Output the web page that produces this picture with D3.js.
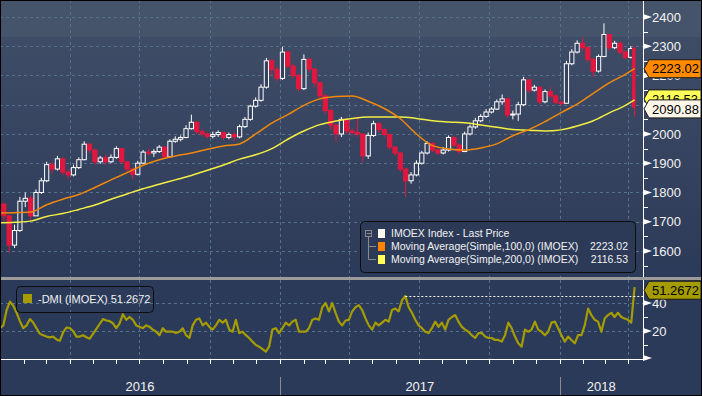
<!DOCTYPE html>
<html>
<head>
<meta charset="utf-8">
<script src="https://cdn.jsdelivr.net/npm/d3@7"></script>
<style>
  html, body { margin: 0; padding: 0; background: #2c3a58; }
  svg { display: block; font-family: "Liberation Sans", Arial, sans-serif; }
</style>
</head>
<body>
<svg id="chart" width="702" height="396"></svg>
<script>
// IMOEX weekly candles (mid-week date), plus the last trading day 2018-04-09
const weekStart = "2015-12-30";
const lastDate = "2018-04-09";

const open = [1770,1760,1720,1620,1670,1770,1780,1720,1800,1840,
  1895,1880,1915,1870,1860,1885,1912,1965,1945,1905,
  1918,1905,1920,1950,1905,1880,1862,1900,1938,1935,
  1940,1955,1922,1975,1982,1988,2018,2040,2008,2000,
  1992,1998,2005,1988,1998,1990,2025,2050,2095,2115,
  2160,2250,2220,2190,2280,2232,2200,2155,2255,2222,
  2175,2130,2080,2030,2000,2050,2010,2005,2000,1925,
  1995,2035,2015,1998,1955,1935,1880,1840,1860,1900,
  1935,1968,1945,1935,1945,1988,1962,1940,2000,2024,
  2045,2060,2075,2085,2110,2120,2065,2068,2100,2185,
  2150,2160,2110,2145,2130,2108,2105,2240,2280,2310,
  2295,2255,2215,2265,2340,2295,2310,2280,2262,2292];
const close = [1760,1720,1620,1670,1770,1780,1720,1800,1840,1895,
  1880,1915,1870,1860,1885,1912,1965,1945,1905,1918,
  1905,1920,1950,1905,1880,1862,1900,1938,1935,1940,
  1955,1922,1975,1982,1988,2018,2040,2008,2000,1992,
  1998,2005,1988,1998,1990,2025,2050,2095,2115,2160,
  2250,2220,2190,2280,2232,2200,2155,2255,2222,2175,
  2130,2080,2030,2000,2050,2010,2005,2000,1925,1995,
  2035,2015,1998,1955,1935,1880,1840,1860,1900,1935,
  1968,1945,1935,1945,1988,1962,1940,2000,2024,2045,
  2060,2075,2085,2110,2120,2065,2068,2100,2185,2150,
  2160,2110,2145,2130,2108,2105,2240,2280,2310,2295,
  2255,2215,2265,2340,2295,2310,2280,2262,2292,2090.88];
const high = [1780,1765,1720,1690,1785,1800,1790,1810,1850,1905,
  1905,1925,1920,1880,1895,1920,1975,1970,1950,1925,
  1930,1930,1958,1950,1905,1885,1908,1945,1950,1948,
  1962,1958,1982,1992,1995,2030,2066,2045,2015,2005,
  2008,2012,2008,2005,2006,2032,2058,2100,2125,2170,
  2260,2258,2230,2298,2285,2240,2205,2272,2260,2225,
  2180,2135,2085,2035,2058,2055,2020,2060,2000,2005,
  2045,2040,2020,2000,1960,1938,1885,1870,1910,1942,
  1975,1972,1950,1955,1995,1992,1968,2008,2032,2055,
  2068,2085,2092,2118,2135,2122,2080,2110,2195,2180,
  2168,2160,2152,2160,2135,2115,2250,2290,2320,2330,
  2300,2260,2272,2378,2340,2318,2315,2285,2300,2300];
const low = [1740,1700,1593,1610,1665,1750,1705,1720,1795,1835,
  1865,1875,1860,1845,1855,1880,1910,1935,1895,1898,
  1895,1900,1915,1898,1870,1845,1858,1898,1925,1922,
  1935,1915,1920,1970,1975,1985,2015,2000,1992,1985,
  1985,1990,1980,1982,1975,1985,2020,2045,2090,2110,
  2155,2200,2180,2185,2225,2190,2145,2150,2210,2160,
  2120,2070,2015,1975,1990,2000,1995,1990,1905,1915,
  1990,2005,1990,1945,1925,1870,1785,1830,1855,1895,
  1930,1938,1928,1930,1940,1955,1932,1938,1995,2018,
  2040,2055,2070,2082,2100,2055,2050,2045,2095,2140,
  2145,2100,2105,2122,2100,2095,2105,2235,2275,2285,
  2245,2195,2210,2262,2285,2290,2272,2255,2258,2060];

// moving averages, one value every 3 weeks + last day
const ma100 = [1730,1731,1733,1758,1777,1793,1817,1843,1868,1893,
  1912,1925,1935,1948,1959,1966,2000,2037,2066,2098,
  2120,2128,2130,2112,2087,2052,2000,1960,1949,1945,
  1952,1966,1994,2015,2042,2073,2102,2139,2175,2204,2223.02];
const ma200 = [1696,1698,1702,1718,1728,1742,1757,1777,1795,1813,
  1828,1843,1858,1876,1894,1914,1929,1950,1982,2010,
  2032,2044,2053,2058,2058,2058,2053,2045,2041,2038,
  2031,2023,2015,2013,2010,2014,2027,2045,2072,2098,2116.53];

// -DMI, evenly spaced from 2016-01-01 to the last day
const dmiStart = "2016-01-01";
const dmi = [22,24,35,41,38,33,27,22,24,28.5,
  26,22,18,17,16,15.5,16,14,13,19,
  22.5,22,20,16,16,17,15.5,14.5,18,21.5,
  25,28.5,27.5,27,25.5,22,25.5,32,28,30,
  28,24,23,22,24,23,21,19.5,17,22,
  19.5,19.5,19.5,18.5,19.5,22,17,15,24,28,
  29,24,26,23,21,24,28,26,28,21,
  19.5,28,18.5,19.5,17,15,12.4,10,8.8,7,
  5.2,8.8,21,22,18.5,22,26,24,26.7,28,
  19.5,19.5,19.5,22,28,29,28,37,40,34,
  40,33,26.7,24,27.5,28,34,37,38.5,35,
  29,24,21,26,24,26,28,26.7,35,36,
  34,42,45,37,33,28,24,22,19.5,18.5,
  22,26.7,23,26,21,28,30,31.4,26.7,23,
  21,19.5,17,15,18.5,18.5,16,15,15,13.6,
  13.6,12.4,17,26,22,16,11.2,8.8,21,19.5,
  21,26.7,21,19.5,17,19.5,26,26.7,22,17,
  12.4,16,13.6,11.2,17,17,24,36,31.4,28,
  26.7,19.5,29,31.4,33,30,33,30,29,28,
  26,51.2672];

const priceTicks = [1600,1700,1800,1900,2000,2100,2200,2300,2400];
const dmiTicks = [0,20,40];
const years = ["2016","2017","2018"];

const legendRows = [
  {label: "IMOEX Index - Last Price", value: "", color: "#fff6ee"},
  {label: "Moving Average(Simple,100,0) (IMOEX)", value: "2223.02", color: "#ff8400"},
  {label: "Moving Average(Simple,200,0) (IMOEX)", value: "2116.53", color: "#ffff55"}
];

// ---------------------------------------------------------------
const parse = d3.timeParse("%Y-%m-%d");
const W = 702, H = 396, plotR = 643;
const topH = 277, lowTop = 280, lowBot = 359;

const x = d3.scaleTime()
  .domain([new Date(2016, 0, 1), new Date(2018, 3, 20)])
  .range([0, plotR]);
const y = d3.scaleLinear().domain([1511, 2458]).range([topH, 0]);
const yd = d3.scaleLinear().domain([0, 57]).range([lowBot, lowBot - 57 * 1.4]);

const w0 = parse(weekStart), dLast = parse(lastDate);
const candles = close.map((c, i) => ({
  date: i < close.length - 1 ? d3.timeDay.offset(w0, 7 * i) : dLast,
  open: open[i], high: high[i], low: low[i], close: c
}));
const maDates = ma100.map((v, i) => i < ma100.length - 1 ? d3.timeDay.offset(w0, 21 * i) : dLast);
const dmiDate = d3.scaleLinear().domain([0, dmi.length - 1])
  .range([parse(dmiStart).getTime(), dLast.getTime()]);

const svg = d3.select("#chart");
const defs = svg.append("defs");

const grad = defs.append("linearGradient").attr("id", "bg").attr("x1", 0).attr("x2", 0).attr("y1", 0).attr("y2", 1);
grad.append("stop").attr("offset", "0%").attr("stop-color", "#3f4c66");
grad.append("stop").attr("offset", "100%").attr("stop-color", "#2c3a59");

defs.append("clipPath").attr("id", "clipTop").append("rect")
  .attr("x", 0).attr("y", 0).attr("width", plotR).attr("height", topH);
defs.append("clipPath").attr("id", "clipLow").append("rect")
  .attr("x", 0).attr("y", lowTop).attr("width", plotR).attr("height", lowBot - lowTop);

// backgrounds
svg.append("rect").attr("width", W).attr("height", H).attr("fill", "#2c3a58");
svg.append("rect").attr("x", 0).attr("y", 37).attr("width", W).attr("height", topH - 37).attr("fill", "url(#bg)");
svg.append("rect").attr("x", 0).attr("y", 0).attr("width", W).attr("height", 37).attr("fill", "#46546b");
svg.append("rect").attr("x", 0).attr("y", lowTop).attr("width", W).attr("height", H - lowTop).attr("fill", "#2c3a59");

// grid
const gridColor = "#56718c";
const quarters = d3.timeMonth.every(3).range(new Date(2016, 1, 1), new Date(2018, 3, 20));
const grid = svg.append("g").attr("stroke", gridColor).attr("stroke-dasharray", "3,3").attr("stroke-width", 1);
grid.selectAll("line.h").data(priceTicks).join("line")
  .attr("x1", 0).attr("x2", plotR)
  .attr("y1", d => Math.round(y(d)) + 0.5).attr("y2", d => Math.round(y(d)) + 0.5);
grid.selectAll("line.hd").data([20, 40]).join("line")
  .attr("x1", 0).attr("x2", plotR)
  .attr("y1", d => Math.round(yd(d)) + 0.5).attr("y2", d => Math.round(yd(d)) + 0.5);
grid.selectAll("line.v").data(quarters).join("line")
  .attr("x1", d => Math.round(x(d)) + 0.5).attr("x2", d => Math.round(x(d)) + 0.5)
  .attr("y1", 0).attr("y2", topH);
grid.selectAll("line.vd").data(quarters).join("line")
  .attr("x1", d => Math.round(x(d)) + 0.5).attr("x2", d => Math.round(x(d)) + 0.5)
  .attr("y1", lowTop).attr("y2", lowBot);

// candles
const red = "#e3173e";
const bw = 4.2;
const gc = svg.append("g").attr("clip-path", "url(#clipTop)");
const cg = gc.selectAll("g").data(candles).join("g");
cg.append("line")
  .attr("x1", d => x(d.date)).attr("x2", d => x(d.date))
  .attr("y1", d => y(d.high)).attr("y2", d => y(d.low))
  .attr("stroke", d => d.close >= d.open ? "#ffffff" : red).attr("stroke-width", 1);
cg.append("rect")
  .attr("x", d => x(d.date) - bw / 2)
  .attr("y", d => y(Math.max(d.open, d.close)))
  .attr("width", (d, i) => i === candles.length - 1 ? 2.5 : bw)
  .attr("height", d => Math.max(1, Math.abs(y(d.open) - y(d.close))))
  .attr("fill", d => d.close >= d.open ? "#34425f" : red)
  .attr("stroke", d => d.close >= d.open ? "#ffffff" : red)
  .attr("stroke-width", 1);

// moving averages
const maLine = d3.line().x((d, i) => x(maDates[i])).y(d => y(d)).curve(d3.curveMonotoneX);
gc.append("path").datum(ma200).attr("d", maLine).attr("fill", "none").attr("stroke", "#f2ee45").attr("stroke-width", 1.5);
gc.append("path").datum(ma100).attr("d", maLine).attr("fill", "none").attr("stroke", "#f0880c").attr("stroke-width", 1.5);

// DMI
const gl = svg.append("g").attr("clip-path", "url(#clipLow)");
const dmiLine = d3.line().x((d, i) => x(new Date(dmiDate(i)))).y(d => yd(d));
gl.append("path").datum(dmi).attr("d", dmiLine).attr("fill", "none")
  .attr("stroke", "#a49c00").attr("stroke-width", 2.2).attr("stroke-linejoin", "round");
const prevMax = d3.max(dmi.slice(0, -1));
const iMax = dmi.indexOf(prevMax);
svg.append("line")
  .attr("x1", x(new Date(dmiDate(iMax)))).attr("x2", plotR)
  .attr("y1", Math.round(yd(prevMax)) + 0.5).attr("y2", Math.round(yd(prevMax)) + 0.5)
  .attr("stroke", "#ffffff").attr("stroke-dasharray", "2,2").attr("stroke-width", 1);

// panel separator
svg.append("rect").attr("x", 0).attr("y", topH).attr("width", W).attr("height", 3).attr("fill", "#9b9b9b");

// right axes
const ax = svg.append("g").attr("fill", "#f2f2f2").attr("font-size", 13);
ax.append("line").attr("x1", plotR + 0.5).attr("x2", plotR + 0.5).attr("y1", 0).attr("y2", topH).attr("stroke", "#ffffff");
ax.append("line").attr("x1", plotR + 0.5).attr("x2", plotR + 0.5).attr("y1", lowTop).attr("y2", lowBot).attr("stroke", "#ffffff");
const tri = yy => `M${plotR},${yy - 3} L${plotR + 9},${yy} L${plotR},${yy + 3} Z`;
ax.selectAll("path.pt").data(priceTicks).join("path").attr("d", d => tri(y(d))).attr("fill", "#ffffff");
ax.selectAll("line.pm").data(priceTicks.map(d => d - 50)).join("line")
  .attr("x1", plotR).attr("x2", plotR + 5)
  .attr("y1", d => Math.round(y(d)) + 0.5).attr("y2", d => Math.round(y(d)) + 0.5).attr("stroke", "#ffffff");
ax.selectAll("text.pl").data(priceTicks).join("text")
  .attr("x", 652).attr("y", d => y(d)).attr("dy", "0.36em").text(d => d);
ax.selectAll("path.dt").data(dmiTicks).join("path").attr("d", d => tri(Math.min(yd(d), lowBot - 1))).attr("fill", "#ffffff");
ax.selectAll("line.dm").data([10, 30, 50]).join("line")
  .attr("x1", plotR).attr("x2", plotR + 5)
  .attr("y1", d => Math.round(yd(d)) + 0.5).attr("y2", d => Math.round(yd(d)) + 0.5).attr("stroke", "#ffffff");
ax.selectAll("text.dl").data([20, 40]).join("text")
  .attr("x", 652).attr("y", d => yd(d)).attr("dy", "0.36em").text(d => d);

// bottom time axis
const months = d3.timeMonth.range(new Date(2016, 0, 1), new Date(2018, 3, 20));
svg.append("line").attr("x1", 0).attr("x2", plotR + 1).attr("y1", lowBot + 0.5).attr("y2", lowBot + 0.5).attr("stroke", "#ffffff");
svg.selectAll("line.mt").data(months).join("line")
  .attr("x1", d => Math.round(x(d)) + 0.5).attr("x2", d => Math.round(x(d)) + 0.5)
  .attr("y1", lowBot).attr("y2", lowBot + 5).attr("stroke", "#ffffff");
const yearStarts = years.map(s => new Date(+s, 0, 1));
svg.selectAll("line.ys").data(yearStarts).join("line")
  .attr("x1", d => Math.max(0.5, Math.round(x(d)) + 0.5)).attr("x2", d => Math.max(0.5, Math.round(x(d)) + 0.5))
  .attr("y1", 377).attr("y2", H).attr("stroke", "#8c8c8c");
svg.selectAll("text.yr").data(years).join("text")
  .attr("x", (d, i) => (x(yearStarts[i]) + (i < years.length - 1 ? x(yearStarts[i + 1]) : plotR)) / 2)
  .attr("y", 386).attr("dy", "0.36em").attr("text-anchor", "middle")
  .attr("fill", "#f2f2f2").attr("font-size", 13).text(d => d);

// value tags on the right
function tag(yc, text, fill) {
  const h = 18;
  const g = svg.append("g");
  g.append("path")
    .attr("d", `M${plotR + 1},${yc} L${plotR + 6},${yc - h / 2} L${W - 1},${yc - h / 2} L${W - 1},${yc + h / 2} L${plotR + 6},${yc + h / 2} Z`)
    .attr("fill", fill).attr("stroke", "#1b1b1b").attr("stroke-width", 1);
  g.append("text").attr("x", 652).attr("y", yc).attr("dy", "0.36em")
    .attr("font-size", 13).attr("fill", "#000000").text(text);
}
const yYel = y(ma200[ma200.length - 1]) - 1;
tag(y(ma100[ma100.length - 1]), "2223.02", "#ff8a00");
tag(yYel, "2116.53", "#ffff5a");
tag(Math.max(y(close[close.length - 1]), yYel + 10), "2090.88", "#fff6ea");
tag(yd(dmi[dmi.length - 1]) + 3, "51.2672", "#a49c00");

// price legend
const lg = svg.append("g");
lg.append("rect").attr("x", 360.5).attr("y", 221.5).attr("width", 275).attr("height", 51).attr("rx", 4)
  .attr("fill", "#2c3a58").attr("stroke", "#0d0d0d");
lg.append("rect").attr("x", 365.5).attr("y", 230.5).attr("width", 6).attr("height", 6).attr("fill", "none").attr("stroke", "#8a8a8a");
lg.append("line").attr("x1", 367).attr("x2", 371).attr("y1", 233.5).attr("y2", 233.5).attr("stroke", "#8a8a8a");
lg.append("path").attr("d", "M368.5,237 V259.5 H376 M368.5,246.5 H376").attr("fill", "none").attr("stroke", "#8a8a8a");
const rows = lg.selectAll("g").data(legendRows).join("g")
  .attr("transform", (d, i) => `translate(0,${233.5 + i * 13})`);
rows.append("rect").attr("x", 378).attr("y", -4.5).attr("width", 7).attr("height", 9).attr("fill", d => d.color);
rows.append("text").attr("x", 391).attr("dy", "0.36em").attr("font-size", 10.5).attr("fill", "#f2f2f2").text(d => d.label);
rows.append("text").attr("x", 628).attr("dy", "0.36em").attr("text-anchor", "end").attr("font-size", 10.5).attr("fill", "#f2f2f2").text(d => d.value);

// DMI legend
const dl = svg.append("g");
dl.append("rect").attr("x", 16.5).attr("y", 286.5).attr("width", 137).attr("height", 26).attr("rx", 4)
  .attr("fill", "none").attr("stroke", "#0d0d0d");
dl.append("rect").attr("x", 23).attr("y", 294).attr("width", 9).attr("height", 9).attr("fill", "#a49c00");
dl.append("text").attr("x", 38).attr("y", 299).attr("dy", "0.36em").attr("font-size", 11).attr("fill", "#f2f2f2")
  .text("-DMI (IMOEX) " + dmi[dmi.length - 1].toFixed(4));

// outer frame
svg.append("rect").attr("x", 0.5).attr("y", 0.5).attr("width", W - 1).attr("height", H - 1)
  .attr("fill", "none").attr("stroke", "#000000");
</script>
</body>
</html>
